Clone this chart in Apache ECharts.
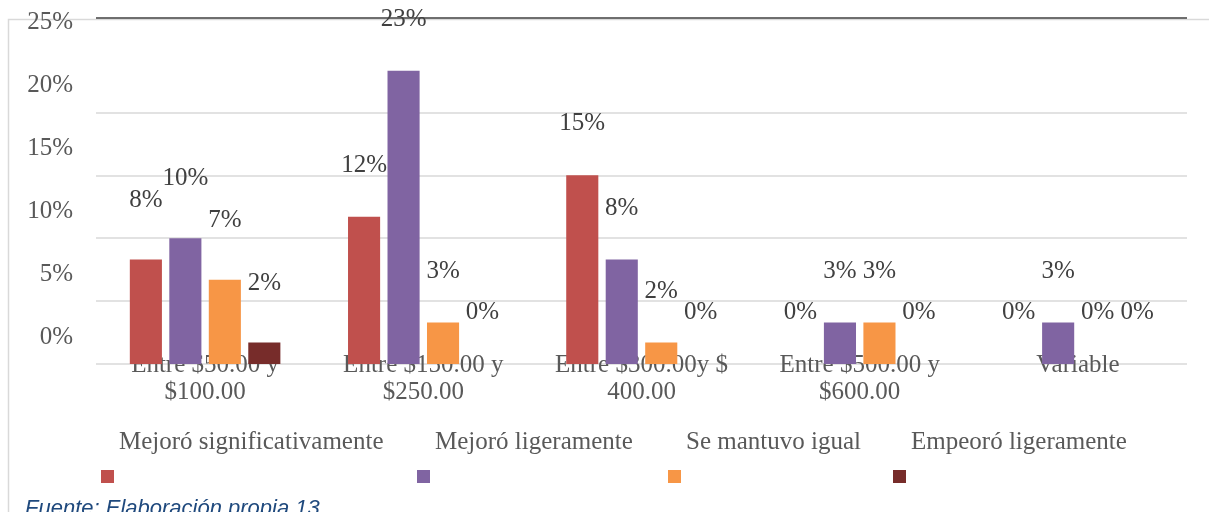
<!DOCTYPE html>
<html><head><meta charset="utf-8">
<script src="https://cdn.jsdelivr.net/npm/echarts@6/dist/echarts.min.js"></script>
<style>html,body{margin:0;padding:0;background:#fff}#c{width:1209px;height:512px}</style>
</head><body><div id="c"></div>
<script>
const categories = ['Entre $50.00 y\n$100.00', 'Entre $150.00 y\n$250.00', 'Entre $300.00y $\n400.00', 'Entre $500.00 y\n$600.00', 'Variable'];
const seriesNames = ['Mejoró significativamente', 'Mejoró ligeramente', 'Se mantuvo igual', 'Empeoró ligeramente'];
const mejoroSignificativamente = [8.3, 11.7, 15.0, 0, 0];
const mejoroLigeramente = [10.0, 23.3, 8.3, 3.3, 3.3];
const seMantuvoIgual = [6.7, 3.3, 1.7, 3.3, 0];
const empeoroLigeramente = [1.7, 0, 0, 0, 0];
const yTickLabels = [0, 5, 10, 15, 20, 25];
const sourceText = 'Fuente: Elaboración propia 13';

const seriesValues = [mejoroSignificativamente, mejoroLigeramente, seMantuvoIgual, empeoroLigeramente];
const colors = ['#C0504D', '#8064A2', '#F79646', '#772C2A'];
const FONT = 'Liberation Serif';
const legendLefts = [101, 417, 668, 893];
const groupLabelShift = [-42, -34, -34, -34, -34];

const chart = echarts.init(document.getElementById('c'), null, {renderer: 'canvas'});
const option = {
  animation: false,
  color: colors,
  grid: {left: 96, right: 22, top: 18, bottom: 148, containLabel: false, outerBoundsMode: 'none'},
  graphic: [{
    type: 'rect', z: -10, silent: true,
    shape: {x: 8.5, y: 19.5, width: 1400, height: 700},
    style: {fill: 'none', stroke: '#d9d9d9', lineWidth: 1.5}
  }],
  title: {
    text: sourceText, left: 25, top: 498, padding: 0,
    textStyle: {fontFamily: 'Liberation Sans', fontStyle: 'italic', fontWeight: 'normal', fontSize: 22, color: '#1F497D'}
  },
  legend: seriesNames.map((n, i) => ({
    data: [n], left: legendLefts[i], top: 408.5, padding: 0,
    icon: 'rect', itemWidth: 13, itemHeight: 13, selectedMode: false,
    formatter: name => name + '\n\u00a0',
    textStyle: {fontFamily: FONT, fontSize: 25, color: '#595959', lineHeight: 68}
  })),
  xAxis: {
    type: 'category', data: categories,
    axisLine: {show: false}, axisTick: {show: false},
    axisLabel: {fontFamily: FONT, fontSize: 25, color: '#595959', margin: -12, lineHeight: 27, interval: 0}
  },
  yAxis: {
    type: 'value', min: 0, max: 27.5, interval: 5,
    axisLine: {show: false}, axisTick: {show: false},
    splitLine: {show: true, lineStyle: {width: 1.5, color: ['#d9d9d9', '#d9d9d9', '#d9d9d9', '#d9d9d9', '#d9d9d9', 'rgba(0,0,0,0)', '#404040']}},
    axisLabel: {
      fontFamily: FONT, fontSize: 25, color: '#595959', margin: 23,
      verticalAlign: 'bottom', lineHeight: 54,
      formatter: v => (yTickLabels.indexOf(v) >= 0 ? v + '%' : '')
    }
  },
  series: seriesNames.map((n, i) => ({
    name: n, type: 'bar',
    data: seriesValues[i].map((v, j) => ({value: v, label: {offset: [0, groupLabelShift[j]]}})),
    barGap: '23%', barCategoryGap: '31%',
    itemStyle: {color: colors[i]},
    label: {
      show: true, position: 'top', distance: 5,
      fontFamily: FONT, fontSize: 25, color: '#404040',
      formatter: p => Math.round(p.value) + '%'
    }
  }))
};
chart.setOption(option);
</script></body></html>
